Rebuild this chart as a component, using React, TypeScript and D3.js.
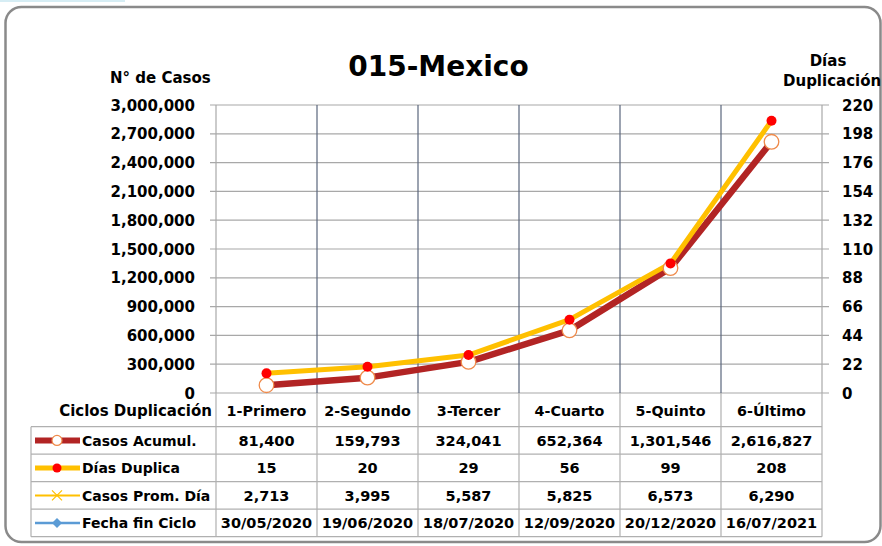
import React from "react";
import * as d3 from "d3";

const categories = ["1-Primero", "2-Segundo", "3-Tercer", "4-Cuarto", "5-Quinto", "6-Último"];
const casosAcumul = [81400, 159793, 324041, 652364, 1301546, 2616827];
const diasDuplica = [15, 20, 29, 56, 99, 208];
const casosPromDia = [2713, 3995, 5587, 5825, 6573, 6290];
const fechaFinCiclo = ["30/05/2020", "19/06/2020", "18/07/2020", "12/09/2020", "20/12/2020", "16/07/2021"];
const leftTicks = d3.range(0, 3000001, 300000);
const rightTicks = d3.range(0, 221, 22);
const seriesNames = ["Casos Acumul.", "Días Duplica", "Casos Prom. Día", "Fecha fin Ciclo"];

const W = 882;
const H = 546;
const FONT = "'DejaVu Sans', sans-serif";

export default function App() {
  const plotL = 216, plotR = 822, plotT = 105, plotB = 393;
  const x = d3.scaleBand<string>().domain(categories).range([plotL, plotR]).padding(0);
  const yL = d3.scaleLinear().domain([0, 3000000]).range([plotB, plotT]);
  const yR = d3.scaleLinear().domain([0, 220]).range([plotB, plotT]);
  const fmt = d3.format(",");
  const cx = (c: string) => (x(c) as number) + x.bandwidth() / 2;

  const lineL = d3.line<number>().x((_, i) => cx(categories[i])).y((d) => yL(d));
  const lineR = d3.line<number>().x((_, i) => cx(categories[i])).y((d) => yR(d));

  const tableTop = 426.7;
  const rowH = 27.5;
  const tableLeft = 31;
  const rowsText: string[][] = [
    casosAcumul.map((v) => fmt(v)),
    diasDuplica.map((v) => fmt(v)),
    casosPromDia.map((v) => fmt(v)),
    fechaFinCiclo,
  ];
  const boundaries = categories.map((c) => x(c) as number).concat([plotR]);
  const tableBottom = tableTop + rowH * 4;

  const keyX1 = 35, keyX2 = 80, keyMid = 57;

  return (
    <svg width={W} height={H} style={{ position: "absolute", left: 0, top: 0, background: "#fff" }} fontFamily={FONT}>
      <rect x={0} y={0} width={W} height={H} fill="#fff" />
      <rect x={0} y={0} width={125} height={2} fill="#d6edf4" />
      <rect x={5.5} y={7} width={875} height={535} rx={16} ry={16} fill="none" stroke="#8a8a8a" strokeWidth={2.5} />

      {/* title */}
      <text x={438.5} y={76} textAnchor="middle" fontSize={28} fontWeight="bold" fill="#000">015-Mexico</text>
      <text x={110} y={83} fontSize={15} fontWeight="bold" fill="#000">N° de Casos</text>
      <text x={828} y={66} textAnchor="middle" fontSize={15} fontWeight="bold" fill="#000">Días</text>
      <text x={783} y={86} fontSize={15} fontWeight="bold" fill="#000">Duplicación</text>

      {/* horizontal gridlines */}
      {leftTicks.map((t) => (
        <line key={"h" + t} x1={210} x2={829} y1={yL(t)} y2={yL(t)} stroke="#a8a8a8" strokeWidth={1.2} />
      ))}
      {/* left tick labels */}
      {leftTicks.map((t) => (
        <text key={"lt" + t} x={195} y={yL(t) + 5.5} textAnchor="end" fontSize={15} fontWeight="bold" fill="#000">{fmt(t)}</text>
      ))}
      {rightTicks.map((t) => (
        <text key={"rt" + t} x={842} y={yR(t) + 5.5} fontSize={15} fontWeight="bold" fill="#000">{t}</text>
      ))}

      {/* vertical lines */}
      {boundaries.map((b, i) => {
        const edge = i === 0 || i === boundaries.length - 1;
        return (
          <g key={"v" + i}>
            <line x1={b} x2={b} y1={plotT} y2={plotB} stroke={edge ? "#a8a8a8" : "#5a667c"} strokeWidth={1.2} />
            <line x1={b} x2={b} y1={plotB} y2={tableBottom} stroke="#b0b0b0" strokeWidth={1.2} />
          </g>
        );
      })}

      {/* table lines */}
      {d3.range(5).map((r) => (
        <line key={"tr" + r} x1={tableLeft} x2={plotR} y1={tableTop + r * rowH} y2={tableTop + r * rowH} stroke="#b0b0b0" strokeWidth={1.2} />
      ))}
      <line x1={tableLeft} x2={tableLeft} y1={tableTop} y2={tableBottom} stroke="#b0b0b0" strokeWidth={1.2} />

      {/* header row */}
      <text x={212} y={416} textAnchor="end" fontSize={15} fontWeight="bold" fill="#000">Ciclos Duplicación</text>
      {categories.map((c) => (
        <text key={"c" + c} x={cx(c)} y={416} textAnchor="middle" fontSize={14.3} fontWeight="bold" fill="#000">{c}</text>
      ))}

      {/* table rows */}
      {rowsText.map((row, r) => {
        const yc = tableTop + r * rowH + rowH / 2;
        return (
          <g key={"row" + r}>
            <text x={82} y={yc + 5.3} fontSize={14} fontWeight="bold" fill="#000">{seriesNames[r]}</text>
            {row.map((v, i) => (
              <text key={i} x={cx(categories[i])} y={yc + 5.3} textAnchor="middle" fontSize={14.5} fontWeight="bold" fill="#000">{v}</text>
            ))}
          </g>
        );
      })}

      {/* legend keys */}
      {(() => {
        const y0 = tableTop + rowH / 2;
        const y1 = tableTop + rowH * 1.5;
        const y2 = tableTop + rowH * 2.5;
        const y3 = tableTop + rowH * 3.5;
        return (
          <g>
            <line x1={keyX1} x2={keyX2} y1={y0} y2={y0} stroke="#b22424" strokeWidth={6} />
            <circle cx={keyMid} cy={y0} r={5} fill="#fff" stroke="#ef8a4a" strokeWidth={1.2} />
            <line x1={keyX1} x2={keyX2} y1={y1} y2={y1} stroke="#ffc000" strokeWidth={5} />
            <circle cx={keyMid} cy={y1} r={4.5} fill="#ff0000" />
            <line x1={keyX1} x2={keyX2} y1={y2} y2={y2} stroke="#ffc000" strokeWidth={2} />
            <path d={`M${keyMid - 5},${y2 - 5}L${keyMid + 5},${y2 + 5}M${keyMid - 5},${y2 + 5}L${keyMid + 5},${y2 - 5}`} stroke="#ffc000" strokeWidth={1.2} />
            <line x1={keyX1} x2={keyX2} y1={y3} y2={y3} stroke="#5b9bd5" strokeWidth={2.5} />
            <path d={`M${keyMid},${y3 - 5}L${keyMid + 5},${y3}L${keyMid},${y3 + 5}L${keyMid - 5},${y3}Z`} fill="#5b9bd5" />
          </g>
        );
      })()}

      {/* series */}
      <path d={lineL(casosAcumul) as string} fill="none" stroke="#b22424" strokeWidth={6.5} strokeLinejoin="round" />
      <path d={lineR(diasDuplica) as string} fill="none" stroke="#ffc000" strokeWidth={5} strokeLinejoin="round" />
      {casosAcumul.map((v, i) => (
        <circle key={"ca" + i} cx={cx(categories[i])} cy={yL(v)} r={7.3} fill="#fff" stroke="#ef8a4a" strokeWidth={1.3} />
      ))}
      {diasDuplica.map((v, i) => (
        <circle key={"dd" + i} cx={cx(categories[i])} cy={yR(v)} r={5} fill="#ff0000" />
      ))}
    </svg>
  );
}
